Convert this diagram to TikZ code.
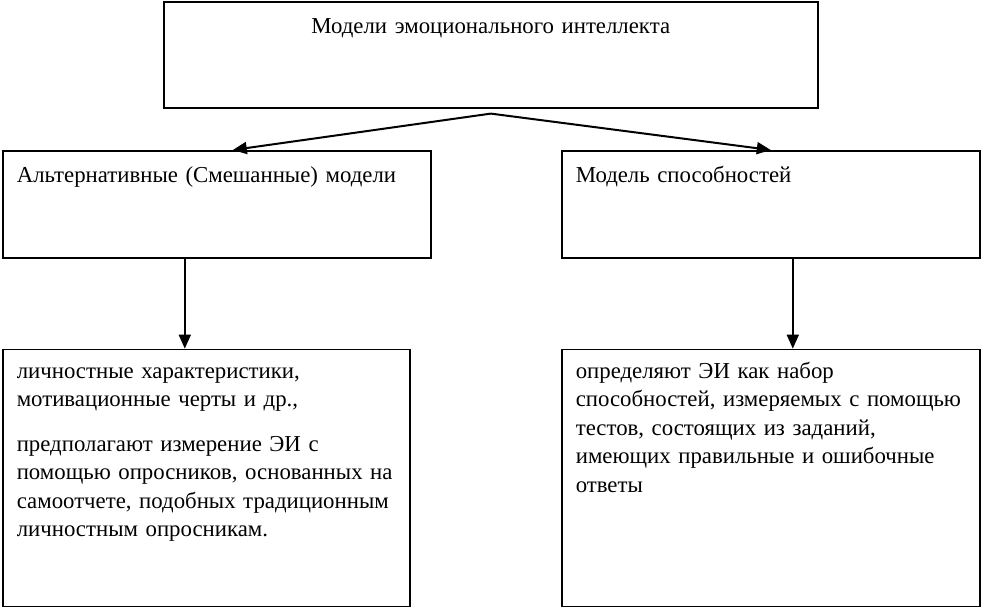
\documentclass[tikz,border=0pt]{standalone}
\usepackage{fontspec}
\setmainfont{Liberation Serif}[WordSpace=0.8]
\usepackage{tikz}
\usetikzlibrary{arrows.meta,positioning}

\begin{document}
\begin{tikzpicture}[
  x=0.5pt, y=-0.5pt,
  font=\fontsize{11.4pt}{14.2pt}\selectfont,
  box/.style={draw, line width=0.8pt, anchor=north west, inner xsep=7pt, inner ysep=0pt, align=left, text height=16pt, text depth=37.5pt},
  descbox/.style={box, text height=14.5pt, text depth=114pt},
  arrow/.style={-{Triangle[length=7pt,width=6pt]}, line width=1pt}
]
\useasboundingbox (0,0) rectangle (981,606);
\node[box, align=center, text width=313pt, text depth=37pt] (models) at (163,1) {Модели эмоционального интеллекта};
\node[box, text width=200pt] (alt) at (2,150) {Альтернативные (Смешанные) модели};
\node[box, text width=195pt] (abil) at (561,150) {Модель способностей};
\node[descbox, text width=189.5pt, below=45pt of alt.south west, anchor=north west] (altinfo) {личностные характеристики,\\ мотивационные черты и др.,\\[8pt] предполагают измерение ЭИ с\\ помощью опросников, основанных на\\ самоотчете, подобных традиционным\\ личностным опросникам.};
\node[descbox, text width=195pt, below=45pt of abil.south west, anchor=north west] (abilinfo) {определяют ЭИ как набор\\ способностей, измеряемых с помощью\\ тестов, состоящих из заданий,\\ имеющих правильные и ошибочные\\ ответы};
\coordinate (split) at ([yshift=-2.5pt]models.south);
\draw[arrow] (split) -- ([xshift=8pt]alt.north);
\draw[arrow] (split) -- (abil.north);
\draw[arrow] ([xshift=-16pt]alt.south) -- ([xshift=-16pt]alt.south |- altinfo.north);
\draw[arrow] ([xshift=11pt]abil.south) -- ([xshift=11pt]abil.south |- abilinfo.north);
\end{tikzpicture}
\end{document}
